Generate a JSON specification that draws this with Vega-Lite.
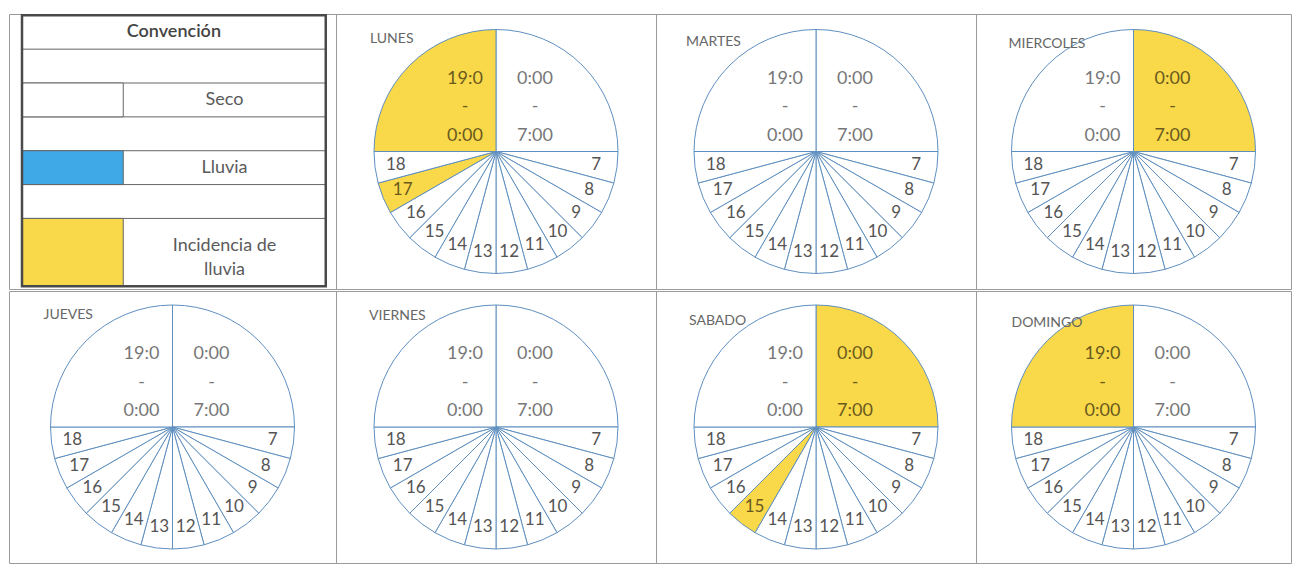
{
"$schema":"https://vega.github.io/schema/vega-lite/v6.json",
"padding":{"left":8,"top":13,"right":0,"bottom":0},
"config":{"view":{"stroke":"#9a9a9a","strokeWidth":1},"concat":{"spacing":0},"font":"Lato"},
"spacing":0,
"datasets":{
"convencion":[
{"fila":"Convención"},
{"fila":"Seco","estado":"Seco"},
{"fila":"Lluvia","estado":"Lluvia"},
{"fila":"Incidencia de lluvia","estado":"Incidencia de lluvia","rotulo":"Incidencia de\nlluvia"}
],
"franjas":[
{"dia":"LUNES","franja":"0:00 - 7:00","inicio":0,"grados":90,"estado":"Seco"},
{"dia":"LUNES","franja":"7","inicio":7,"grados":15,"estado":"Seco"},
{"dia":"LUNES","franja":"8","inicio":8,"grados":15,"estado":"Seco"},
{"dia":"LUNES","franja":"9","inicio":9,"grados":15,"estado":"Seco"},
{"dia":"LUNES","franja":"10","inicio":10,"grados":15,"estado":"Seco"},
{"dia":"LUNES","franja":"11","inicio":11,"grados":15,"estado":"Seco"},
{"dia":"LUNES","franja":"12","inicio":12,"grados":15,"estado":"Seco"},
{"dia":"LUNES","franja":"13","inicio":13,"grados":15,"estado":"Seco"},
{"dia":"LUNES","franja":"14","inicio":14,"grados":15,"estado":"Seco"},
{"dia":"LUNES","franja":"15","inicio":15,"grados":15,"estado":"Seco"},
{"dia":"LUNES","franja":"16","inicio":16,"grados":15,"estado":"Seco"},
{"dia":"LUNES","franja":"17","inicio":17,"grados":15,"estado":"Incidencia de lluvia"},
{"dia":"LUNES","franja":"18","inicio":18,"grados":15,"estado":"Seco"},
{"dia":"LUNES","franja":"19:0 - 0:00","inicio":19,"grados":90,"estado":"Incidencia de lluvia"},
{"dia":"MARTES","franja":"0:00 - 7:00","inicio":0,"grados":90,"estado":"Seco"},
{"dia":"MARTES","franja":"7","inicio":7,"grados":15,"estado":"Seco"},
{"dia":"MARTES","franja":"8","inicio":8,"grados":15,"estado":"Seco"},
{"dia":"MARTES","franja":"9","inicio":9,"grados":15,"estado":"Seco"},
{"dia":"MARTES","franja":"10","inicio":10,"grados":15,"estado":"Seco"},
{"dia":"MARTES","franja":"11","inicio":11,"grados":15,"estado":"Seco"},
{"dia":"MARTES","franja":"12","inicio":12,"grados":15,"estado":"Seco"},
{"dia":"MARTES","franja":"13","inicio":13,"grados":15,"estado":"Seco"},
{"dia":"MARTES","franja":"14","inicio":14,"grados":15,"estado":"Seco"},
{"dia":"MARTES","franja":"15","inicio":15,"grados":15,"estado":"Seco"},
{"dia":"MARTES","franja":"16","inicio":16,"grados":15,"estado":"Seco"},
{"dia":"MARTES","franja":"17","inicio":17,"grados":15,"estado":"Seco"},
{"dia":"MARTES","franja":"18","inicio":18,"grados":15,"estado":"Seco"},
{"dia":"MARTES","franja":"19:0 - 0:00","inicio":19,"grados":90,"estado":"Seco"},
{"dia":"MIERCOLES","franja":"0:00 - 7:00","inicio":0,"grados":90,"estado":"Incidencia de lluvia"},
{"dia":"MIERCOLES","franja":"7","inicio":7,"grados":15,"estado":"Seco"},
{"dia":"MIERCOLES","franja":"8","inicio":8,"grados":15,"estado":"Seco"},
{"dia":"MIERCOLES","franja":"9","inicio":9,"grados":15,"estado":"Seco"},
{"dia":"MIERCOLES","franja":"10","inicio":10,"grados":15,"estado":"Seco"},
{"dia":"MIERCOLES","franja":"11","inicio":11,"grados":15,"estado":"Seco"},
{"dia":"MIERCOLES","franja":"12","inicio":12,"grados":15,"estado":"Seco"},
{"dia":"MIERCOLES","franja":"13","inicio":13,"grados":15,"estado":"Seco"},
{"dia":"MIERCOLES","franja":"14","inicio":14,"grados":15,"estado":"Seco"},
{"dia":"MIERCOLES","franja":"15","inicio":15,"grados":15,"estado":"Seco"},
{"dia":"MIERCOLES","franja":"16","inicio":16,"grados":15,"estado":"Seco"},
{"dia":"MIERCOLES","franja":"17","inicio":17,"grados":15,"estado":"Seco"},
{"dia":"MIERCOLES","franja":"18","inicio":18,"grados":15,"estado":"Seco"},
{"dia":"MIERCOLES","franja":"19:0 - 0:00","inicio":19,"grados":90,"estado":"Seco"},
{"dia":"JUEVES","franja":"0:00 - 7:00","inicio":0,"grados":90,"estado":"Seco"},
{"dia":"JUEVES","franja":"7","inicio":7,"grados":15,"estado":"Seco"},
{"dia":"JUEVES","franja":"8","inicio":8,"grados":15,"estado":"Seco"},
{"dia":"JUEVES","franja":"9","inicio":9,"grados":15,"estado":"Seco"},
{"dia":"JUEVES","franja":"10","inicio":10,"grados":15,"estado":"Seco"},
{"dia":"JUEVES","franja":"11","inicio":11,"grados":15,"estado":"Seco"},
{"dia":"JUEVES","franja":"12","inicio":12,"grados":15,"estado":"Seco"},
{"dia":"JUEVES","franja":"13","inicio":13,"grados":15,"estado":"Seco"},
{"dia":"JUEVES","franja":"14","inicio":14,"grados":15,"estado":"Seco"},
{"dia":"JUEVES","franja":"15","inicio":15,"grados":15,"estado":"Seco"},
{"dia":"JUEVES","franja":"16","inicio":16,"grados":15,"estado":"Seco"},
{"dia":"JUEVES","franja":"17","inicio":17,"grados":15,"estado":"Seco"},
{"dia":"JUEVES","franja":"18","inicio":18,"grados":15,"estado":"Seco"},
{"dia":"JUEVES","franja":"19:0 - 0:00","inicio":19,"grados":90,"estado":"Seco"},
{"dia":"VIERNES","franja":"0:00 - 7:00","inicio":0,"grados":90,"estado":"Seco"},
{"dia":"VIERNES","franja":"7","inicio":7,"grados":15,"estado":"Seco"},
{"dia":"VIERNES","franja":"8","inicio":8,"grados":15,"estado":"Seco"},
{"dia":"VIERNES","franja":"9","inicio":9,"grados":15,"estado":"Seco"},
{"dia":"VIERNES","franja":"10","inicio":10,"grados":15,"estado":"Seco"},
{"dia":"VIERNES","franja":"11","inicio":11,"grados":15,"estado":"Seco"},
{"dia":"VIERNES","franja":"12","inicio":12,"grados":15,"estado":"Seco"},
{"dia":"VIERNES","franja":"13","inicio":13,"grados":15,"estado":"Seco"},
{"dia":"VIERNES","franja":"14","inicio":14,"grados":15,"estado":"Seco"},
{"dia":"VIERNES","franja":"15","inicio":15,"grados":15,"estado":"Seco"},
{"dia":"VIERNES","franja":"16","inicio":16,"grados":15,"estado":"Seco"},
{"dia":"VIERNES","franja":"17","inicio":17,"grados":15,"estado":"Seco"},
{"dia":"VIERNES","franja":"18","inicio":18,"grados":15,"estado":"Seco"},
{"dia":"VIERNES","franja":"19:0 - 0:00","inicio":19,"grados":90,"estado":"Seco"},
{"dia":"SABADO","franja":"0:00 - 7:00","inicio":0,"grados":90,"estado":"Incidencia de lluvia"},
{"dia":"SABADO","franja":"7","inicio":7,"grados":15,"estado":"Seco"},
{"dia":"SABADO","franja":"8","inicio":8,"grados":15,"estado":"Seco"},
{"dia":"SABADO","franja":"9","inicio":9,"grados":15,"estado":"Seco"},
{"dia":"SABADO","franja":"10","inicio":10,"grados":15,"estado":"Seco"},
{"dia":"SABADO","franja":"11","inicio":11,"grados":15,"estado":"Seco"},
{"dia":"SABADO","franja":"12","inicio":12,"grados":15,"estado":"Seco"},
{"dia":"SABADO","franja":"13","inicio":13,"grados":15,"estado":"Seco"},
{"dia":"SABADO","franja":"14","inicio":14,"grados":15,"estado":"Seco"},
{"dia":"SABADO","franja":"15","inicio":15,"grados":15,"estado":"Incidencia de lluvia"},
{"dia":"SABADO","franja":"16","inicio":16,"grados":15,"estado":"Seco"},
{"dia":"SABADO","franja":"17","inicio":17,"grados":15,"estado":"Seco"},
{"dia":"SABADO","franja":"18","inicio":18,"grados":15,"estado":"Seco"},
{"dia":"SABADO","franja":"19:0 - 0:00","inicio":19,"grados":90,"estado":"Seco"},
{"dia":"DOMINGO","franja":"0:00 - 7:00","inicio":0,"grados":90,"estado":"Seco"},
{"dia":"DOMINGO","franja":"7","inicio":7,"grados":15,"estado":"Seco"},
{"dia":"DOMINGO","franja":"8","inicio":8,"grados":15,"estado":"Seco"},
{"dia":"DOMINGO","franja":"9","inicio":9,"grados":15,"estado":"Seco"},
{"dia":"DOMINGO","franja":"10","inicio":10,"grados":15,"estado":"Seco"},
{"dia":"DOMINGO","franja":"11","inicio":11,"grados":15,"estado":"Seco"},
{"dia":"DOMINGO","franja":"12","inicio":12,"grados":15,"estado":"Seco"},
{"dia":"DOMINGO","franja":"13","inicio":13,"grados":15,"estado":"Seco"},
{"dia":"DOMINGO","franja":"14","inicio":14,"grados":15,"estado":"Seco"},
{"dia":"DOMINGO","franja":"15","inicio":15,"grados":15,"estado":"Seco"},
{"dia":"DOMINGO","franja":"16","inicio":16,"grados":15,"estado":"Seco"},
{"dia":"DOMINGO","franja":"17","inicio":17,"grados":15,"estado":"Seco"},
{"dia":"DOMINGO","franja":"18","inicio":18,"grados":15,"estado":"Seco"},
{"dia":"DOMINGO","franja":"19:0 - 0:00","inicio":19,"grados":90,"estado":"Incidencia de lluvia"}
]},
"vconcat":[
{"spacing":0,"bounds":"flush","hconcat":[
{"width":327,"height":275,"data":{"name":"convencion"},"view":{"stroke":"#9a9a9a","strokeWidth":1},
 "layer":[
  {"transform":[{"filter":"datum.fila !== 'Incidencia de lluvia'"}],
   "mark":{"type":"rect","fill":"#ffffff","stroke":"#666666","strokeWidth":1},
   "encoding":{
    "x":{"datum":"muestra","type":"nominal","bandPosition":0,"axis":null,"scale":{"type":"band","domain":["muestra","d1","d2","fin"],"range":[13,418],"paddingInner":0,"paddingOuter":0}},
    "x2":{"datum":"fin","bandPosition":0},
    "y":{"field":"fila","type":"nominal","axis":null,"scale":{"type":"band","domain":["Convención","_a","Seco","_b","Lluvia","_c","Incidencia de lluvia","_d","fin"],"range":[1.3,306],"paddingInner":0,"paddingOuter":0}}}},
  {"transform":[{"filter":"datum.fila === 'Incidencia de lluvia'"}],
   "mark":{"type":"rect","fill":"#ffffff","stroke":"#666666","strokeWidth":1},
   "encoding":{
    "x":{"datum":"muestra","type":"nominal","bandPosition":0,"axis":null},
    "x2":{"datum":"fin","bandPosition":0},
    "y":{"field":"fila","type":"nominal","bandPosition":0,"axis":null},
    "y2":{"datum":"fin","bandPosition":0}}},
  {"transform":[{"filter":"datum.fila === 'Seco' || datum.fila === 'Lluvia'"}],
   "mark":{"type":"rect","stroke":"#666666","strokeWidth":1},
   "encoding":{
    "x":{"datum":"muestra","type":"nominal","axis":null},
    "y":{"field":"fila","type":"nominal","axis":null},
    "color":{"field":"estado","type":"nominal","scale":{"domain":["Seco","Lluvia","Incidencia de lluvia"],"range":["#ffffff","#3fa9e8","#f9d949"]},"legend":null}}},
  {"transform":[{"filter":"datum.fila === 'Incidencia de lluvia'"}],
   "mark":{"type":"rect","stroke":"#666666","strokeWidth":1},
   "encoding":{
    "x":{"datum":"muestra","type":"nominal","bandPosition":0,"axis":null},
    "x2":{"datum":"d1","bandPosition":0},
    "y":{"field":"fila","type":"nominal","bandPosition":0,"axis":null},
    "y2":{"datum":"fin","bandPosition":0},
    "color":{"field":"estado","type":"nominal","scale":{"domain":["Seco","Lluvia","Incidencia de lluvia"],"range":["#ffffff","#3fa9e8","#f9d949"]},"legend":null}}},
  {"transform":[{"filter":"datum.fila === 'Convención'"}],
   "mark":{"type":"rect","filled":false,"stroke":"#4a4a4a","strokeWidth":2.5},
   "encoding":{
    "x":{"datum":"muestra","type":"nominal","bandPosition":0,"axis":null},
    "x2":{"datum":"fin","bandPosition":0},
    "y":{"field":"fila","type":"nominal","bandPosition":0,"axis":null},
    "y2":{"datum":"fin","bandPosition":0}}},
  {"transform":[{"filter":"datum.fila === 'Convención'"}],
   "mark":{"type":"text","fontSize":18,"fontWeight":600,"color":"#444444","font":"Lato"},
   "encoding":{
    "x":{"datum":"d1","type":"nominal","bandPosition":0.5,"axis":null},
    "y":{"field":"fila","type":"nominal","axis":null},
    "text":{"field":"fila"}}},
  {"transform":[{"filter":"datum.fila === 'Seco' || datum.fila === 'Lluvia'"}],
   "mark":{"type":"text","fontSize":18,"color":"#5a5a5a","font":"Lato"},
   "encoding":{
    "x":{"datum":"d2","type":"nominal","bandPosition":0,"axis":null},
    "y":{"field":"fila","type":"nominal","axis":null},
    "text":{"field":"fila"}}},
  {"transform":[{"filter":"datum.fila === 'Incidencia de lluvia'"}],
   "mark":{"type":"text","fontSize":18,"color":"#5a5a5a","font":"Lato","lineBreak":"\n","lineHeight":24,"baseline":"middle"},
   "encoding":{
    "x":{"datum":"d2","type":"nominal","bandPosition":0,"axis":null},
    "y":{"field":"fila","type":"nominal","bandPosition":0.8,"axis":null},
    "text":{"field":"rotulo"}}}
 ]},
{"width":320,"height":275,"data":{"name":"franjas"},"view":{"stroke":"#9a9a9a","strokeWidth":1},"transform":[{"filter":"datum.dia === 'LUNES'"}],
 "layer":[
  {"mark":{"type":"arc","outerRadius":122,"stroke":"#5f8fbf","strokeWidth":1},
   "encoding":{"theta":{"field":"grados","type":"quantitative","stack":true},"order":{"field":"inicio","type":"quantitative"},"detail":{"field":"franja"},
    "color":{"field":"estado","type":"nominal","scale":{"domain":["Seco","Lluvia","Incidencia de lluvia"],"range":["#ffffff","#3fa9e8","#f9d949"]},"legend":null}}},
  {"mark":{"type":"text","radius":101,"fontSize":17,"font":"Lato"},
   "encoding":{"theta":{"field":"grados","type":"quantitative","stack":true},"order":{"field":"inicio","type":"quantitative"},"detail":{"field":"franja"},
    "text":{"condition":{"test":"datum.grados == 15","field":"franja"},"value":""},
    "color":{"condition":{"test":"datum.estado === 'Incidencia de lluvia'","value":"#6b5a1e"},"value":"#555555"}}},
  {"transform":[{"filter":"datum.inicio == 19"}],
   "mark":{"type":"text","dx":-31,"dy":-73,"lineBreak":" ","lineHeight":28.5,"fontSize":18,"font":"Lato","align":"center","baseline":"middle"},
   "encoding":{"text":{"field":"franja"},"color":{"condition":{"test":"datum.estado === 'Incidencia de lluvia'","value":"#6b5a1e"},"value":"#777777"}}},
  {"transform":[{"filter":"datum.inicio == 0"}],
   "mark":{"type":"text","dx":39,"dy":-73,"lineBreak":" ","lineHeight":28.5,"fontSize":18,"font":"Lato","align":"center","baseline":"middle"},
   "encoding":{"text":{"field":"franja"},"color":{"condition":{"test":"datum.estado === 'Incidencia de lluvia'","value":"#6b5a1e"},"value":"#777777"}}},
  {"transform":[{"filter":"datum.inicio == 0"}],
   "mark":{"type":"text","dx":-126,"dy":-113,"align":"left","baseline":"middle","fontSize":14,"letterSpacing":2,"font":"Lato","color":"#666666"},
   "encoding":{"text":{"field":"dia"}}}
 ]},
{"width":320,"height":275,"data":{"name":"franjas"},"view":{"stroke":"#9a9a9a","strokeWidth":1},"transform":[{"filter":"datum.dia === 'MARTES'"}],
 "layer":[
  {"mark":{"type":"arc","outerRadius":122,"stroke":"#5f8fbf","strokeWidth":1},
   "encoding":{"theta":{"field":"grados","type":"quantitative","stack":true},"order":{"field":"inicio","type":"quantitative"},"detail":{"field":"franja"},
    "color":{"field":"estado","type":"nominal","scale":{"domain":["Seco","Lluvia","Incidencia de lluvia"],"range":["#ffffff","#3fa9e8","#f9d949"]},"legend":null}}},
  {"mark":{"type":"text","radius":101,"fontSize":17,"font":"Lato"},
   "encoding":{"theta":{"field":"grados","type":"quantitative","stack":true},"order":{"field":"inicio","type":"quantitative"},"detail":{"field":"franja"},
    "text":{"condition":{"test":"datum.grados == 15","field":"franja"},"value":""},
    "color":{"condition":{"test":"datum.estado === 'Incidencia de lluvia'","value":"#6b5a1e"},"value":"#555555"}}},
  {"transform":[{"filter":"datum.inicio == 19"}],
   "mark":{"type":"text","dx":-31,"dy":-73,"lineBreak":" ","lineHeight":28.5,"fontSize":18,"font":"Lato","align":"center","baseline":"middle"},
   "encoding":{"text":{"field":"franja"},"color":{"condition":{"test":"datum.estado === 'Incidencia de lluvia'","value":"#6b5a1e"},"value":"#777777"}}},
  {"transform":[{"filter":"datum.inicio == 0"}],
   "mark":{"type":"text","dx":39,"dy":-73,"lineBreak":" ","lineHeight":28.5,"fontSize":18,"font":"Lato","align":"center","baseline":"middle"},
   "encoding":{"text":{"field":"franja"},"color":{"condition":{"test":"datum.estado === 'Incidencia de lluvia'","value":"#6b5a1e"},"value":"#777777"}}},
  {"transform":[{"filter":"datum.inicio == 0"}],
   "mark":{"type":"text","dx":-130,"dy":-110,"align":"left","baseline":"middle","fontSize":14,"letterSpacing":2,"font":"Lato","color":"#666666"},
   "encoding":{"text":{"field":"dia"}}}
 ]},
{"width":315,"height":275,"data":{"name":"franjas"},"view":{"stroke":"#9a9a9a","strokeWidth":1},"transform":[{"filter":"datum.dia === 'MIERCOLES'"}],
 "layer":[
  {"mark":{"type":"arc","outerRadius":122,"stroke":"#5f8fbf","strokeWidth":1},
   "encoding":{"theta":{"field":"grados","type":"quantitative","stack":true},"order":{"field":"inicio","type":"quantitative"},"detail":{"field":"franja"},
    "color":{"field":"estado","type":"nominal","scale":{"domain":["Seco","Lluvia","Incidencia de lluvia"],"range":["#ffffff","#3fa9e8","#f9d949"]},"legend":null}}},
  {"mark":{"type":"text","radius":101,"fontSize":17,"font":"Lato"},
   "encoding":{"theta":{"field":"grados","type":"quantitative","stack":true},"order":{"field":"inicio","type":"quantitative"},"detail":{"field":"franja"},
    "text":{"condition":{"test":"datum.grados == 15","field":"franja"},"value":""},
    "color":{"condition":{"test":"datum.estado === 'Incidencia de lluvia'","value":"#6b5a1e"},"value":"#555555"}}},
  {"transform":[{"filter":"datum.inicio == 19"}],
   "mark":{"type":"text","dx":-31,"dy":-73,"lineBreak":" ","lineHeight":28.5,"fontSize":18,"font":"Lato","align":"center","baseline":"middle"},
   "encoding":{"text":{"field":"franja"},"color":{"condition":{"test":"datum.estado === 'Incidencia de lluvia'","value":"#6b5a1e"},"value":"#777777"}}},
  {"transform":[{"filter":"datum.inicio == 0"}],
   "mark":{"type":"text","dx":39,"dy":-73,"lineBreak":" ","lineHeight":28.5,"fontSize":18,"font":"Lato","align":"center","baseline":"middle"},
   "encoding":{"text":{"field":"franja"},"color":{"condition":{"test":"datum.estado === 'Incidencia de lluvia'","value":"#6b5a1e"},"value":"#777777"}}},
  {"transform":[{"filter":"datum.inicio == 0"}],
   "mark":{"type":"text","dx":-125,"dy":-108,"align":"left","baseline":"middle","fontSize":14,"letterSpacing":1,"font":"Lato","color":"#666666"},
   "encoding":{"text":{"field":"dia"}}}
 ]}
]},
{"spacing":0,"bounds":"flush","hconcat":[
{"width":327,"height":272,"data":{"name":"franjas"},"view":{"stroke":"#9a9a9a","strokeWidth":1},"transform":[{"filter":"datum.dia === 'JUEVES'"}],
 "layer":[
  {"mark":{"type":"arc","outerRadius":122,"stroke":"#5f8fbf","strokeWidth":1},
   "encoding":{"theta":{"field":"grados","type":"quantitative","stack":true},"order":{"field":"inicio","type":"quantitative"},"detail":{"field":"franja"},
    "color":{"field":"estado","type":"nominal","scale":{"domain":["Seco","Lluvia","Incidencia de lluvia"],"range":["#ffffff","#3fa9e8","#f9d949"]},"legend":null}}},
  {"mark":{"type":"text","radius":101,"fontSize":17,"font":"Lato"},
   "encoding":{"theta":{"field":"grados","type":"quantitative","stack":true},"order":{"field":"inicio","type":"quantitative"},"detail":{"field":"franja"},
    "text":{"condition":{"test":"datum.grados == 15","field":"franja"},"value":""},
    "color":{"condition":{"test":"datum.estado === 'Incidencia de lluvia'","value":"#6b5a1e"},"value":"#555555"}}},
  {"transform":[{"filter":"datum.inicio == 19"}],
   "mark":{"type":"text","dx":-31,"dy":-73,"lineBreak":" ","lineHeight":28.5,"fontSize":18,"font":"Lato","align":"center","baseline":"middle"},
   "encoding":{"text":{"field":"franja"},"color":{"condition":{"test":"datum.estado === 'Incidencia de lluvia'","value":"#6b5a1e"},"value":"#777777"}}},
  {"transform":[{"filter":"datum.inicio == 0"}],
   "mark":{"type":"text","dx":39,"dy":-73,"lineBreak":" ","lineHeight":28.5,"fontSize":18,"font":"Lato","align":"center","baseline":"middle"},
   "encoding":{"text":{"field":"franja"},"color":{"condition":{"test":"datum.estado === 'Incidencia de lluvia'","value":"#6b5a1e"},"value":"#777777"}}},
  {"transform":[{"filter":"datum.inicio == 0"}],
   "mark":{"type":"text","dx":-129,"dy":-112,"align":"left","baseline":"middle","fontSize":14,"letterSpacing":1.5,"font":"Lato","color":"#666666"},
   "encoding":{"text":{"field":"dia"}}}
 ]},
{"width":320,"height":272,"data":{"name":"franjas"},"view":{"stroke":"#9a9a9a","strokeWidth":1},"transform":[{"filter":"datum.dia === 'VIERNES'"}],
 "layer":[
  {"mark":{"type":"arc","outerRadius":122,"stroke":"#5f8fbf","strokeWidth":1},
   "encoding":{"theta":{"field":"grados","type":"quantitative","stack":true},"order":{"field":"inicio","type":"quantitative"},"detail":{"field":"franja"},
    "color":{"field":"estado","type":"nominal","scale":{"domain":["Seco","Lluvia","Incidencia de lluvia"],"range":["#ffffff","#3fa9e8","#f9d949"]},"legend":null}}},
  {"mark":{"type":"text","radius":101,"fontSize":17,"font":"Lato"},
   "encoding":{"theta":{"field":"grados","type":"quantitative","stack":true},"order":{"field":"inicio","type":"quantitative"},"detail":{"field":"franja"},
    "text":{"condition":{"test":"datum.grados == 15","field":"franja"},"value":""},
    "color":{"condition":{"test":"datum.estado === 'Incidencia de lluvia'","value":"#6b5a1e"},"value":"#555555"}}},
  {"transform":[{"filter":"datum.inicio == 19"}],
   "mark":{"type":"text","dx":-31,"dy":-73,"lineBreak":" ","lineHeight":28.5,"fontSize":18,"font":"Lato","align":"center","baseline":"middle"},
   "encoding":{"text":{"field":"franja"},"color":{"condition":{"test":"datum.estado === 'Incidencia de lluvia'","value":"#6b5a1e"},"value":"#777777"}}},
  {"transform":[{"filter":"datum.inicio == 0"}],
   "mark":{"type":"text","dx":39,"dy":-73,"lineBreak":" ","lineHeight":28.5,"fontSize":18,"font":"Lato","align":"center","baseline":"middle"},
   "encoding":{"text":{"field":"franja"},"color":{"condition":{"test":"datum.estado === 'Incidencia de lluvia'","value":"#6b5a1e"},"value":"#777777"}}},
  {"transform":[{"filter":"datum.inicio == 0"}],
   "mark":{"type":"text","dx":-127,"dy":-111,"align":"left","baseline":"middle","fontSize":14,"letterSpacing":1.5,"font":"Lato","color":"#666666"},
   "encoding":{"text":{"field":"dia"}}}
 ]},
{"width":320,"height":272,"data":{"name":"franjas"},"view":{"stroke":"#9a9a9a","strokeWidth":1},"transform":[{"filter":"datum.dia === 'SABADO'"}],
 "layer":[
  {"mark":{"type":"arc","outerRadius":122,"stroke":"#5f8fbf","strokeWidth":1},
   "encoding":{"theta":{"field":"grados","type":"quantitative","stack":true},"order":{"field":"inicio","type":"quantitative"},"detail":{"field":"franja"},
    "color":{"field":"estado","type":"nominal","scale":{"domain":["Seco","Lluvia","Incidencia de lluvia"],"range":["#ffffff","#3fa9e8","#f9d949"]},"legend":null}}},
  {"mark":{"type":"text","radius":101,"fontSize":17,"font":"Lato"},
   "encoding":{"theta":{"field":"grados","type":"quantitative","stack":true},"order":{"field":"inicio","type":"quantitative"},"detail":{"field":"franja"},
    "text":{"condition":{"test":"datum.grados == 15","field":"franja"},"value":""},
    "color":{"condition":{"test":"datum.estado === 'Incidencia de lluvia'","value":"#6b5a1e"},"value":"#555555"}}},
  {"transform":[{"filter":"datum.inicio == 19"}],
   "mark":{"type":"text","dx":-31,"dy":-73,"lineBreak":" ","lineHeight":28.5,"fontSize":18,"font":"Lato","align":"center","baseline":"middle"},
   "encoding":{"text":{"field":"franja"},"color":{"condition":{"test":"datum.estado === 'Incidencia de lluvia'","value":"#6b5a1e"},"value":"#777777"}}},
  {"transform":[{"filter":"datum.inicio == 0"}],
   "mark":{"type":"text","dx":39,"dy":-73,"lineBreak":" ","lineHeight":28.5,"fontSize":18,"font":"Lato","align":"center","baseline":"middle"},
   "encoding":{"text":{"field":"franja"},"color":{"condition":{"test":"datum.estado === 'Incidencia de lluvia'","value":"#6b5a1e"},"value":"#777777"}}},
  {"transform":[{"filter":"datum.inicio == 0"}],
   "mark":{"type":"text","dx":-127,"dy":-106,"align":"left","baseline":"middle","fontSize":14,"letterSpacing":1.5,"font":"Lato","color":"#666666"},
   "encoding":{"text":{"field":"dia"}}}
 ]},
{"width":315,"height":272,"data":{"name":"franjas"},"view":{"stroke":"#9a9a9a","strokeWidth":1},"transform":[{"filter":"datum.dia === 'DOMINGO'"}],
 "layer":[
  {"mark":{"type":"arc","outerRadius":122,"stroke":"#5f8fbf","strokeWidth":1},
   "encoding":{"theta":{"field":"grados","type":"quantitative","stack":true},"order":{"field":"inicio","type":"quantitative"},"detail":{"field":"franja"},
    "color":{"field":"estado","type":"nominal","scale":{"domain":["Seco","Lluvia","Incidencia de lluvia"],"range":["#ffffff","#3fa9e8","#f9d949"]},"legend":null}}},
  {"mark":{"type":"text","radius":101,"fontSize":17,"font":"Lato"},
   "encoding":{"theta":{"field":"grados","type":"quantitative","stack":true},"order":{"field":"inicio","type":"quantitative"},"detail":{"field":"franja"},
    "text":{"condition":{"test":"datum.grados == 15","field":"franja"},"value":""},
    "color":{"condition":{"test":"datum.estado === 'Incidencia de lluvia'","value":"#6b5a1e"},"value":"#555555"}}},
  {"transform":[{"filter":"datum.inicio == 19"}],
   "mark":{"type":"text","dx":-31,"dy":-73,"lineBreak":" ","lineHeight":28.5,"fontSize":18,"font":"Lato","align":"center","baseline":"middle"},
   "encoding":{"text":{"field":"franja"},"color":{"condition":{"test":"datum.estado === 'Incidencia de lluvia'","value":"#6b5a1e"},"value":"#777777"}}},
  {"transform":[{"filter":"datum.inicio == 0"}],
   "mark":{"type":"text","dx":39,"dy":-73,"lineBreak":" ","lineHeight":28.5,"fontSize":18,"font":"Lato","align":"center","baseline":"middle"},
   "encoding":{"text":{"field":"franja"},"color":{"condition":{"test":"datum.estado === 'Incidencia de lluvia'","value":"#6b5a1e"},"value":"#777777"}}},
  {"transform":[{"filter":"datum.inicio == 0"}],
   "mark":{"type":"text","dx":-122,"dy":-104,"align":"left","baseline":"middle","fontSize":14,"letterSpacing":1.5,"font":"Lato","color":"#666666"},
   "encoding":{"text":{"field":"dia"}}}
 ]}
]}
]
}
